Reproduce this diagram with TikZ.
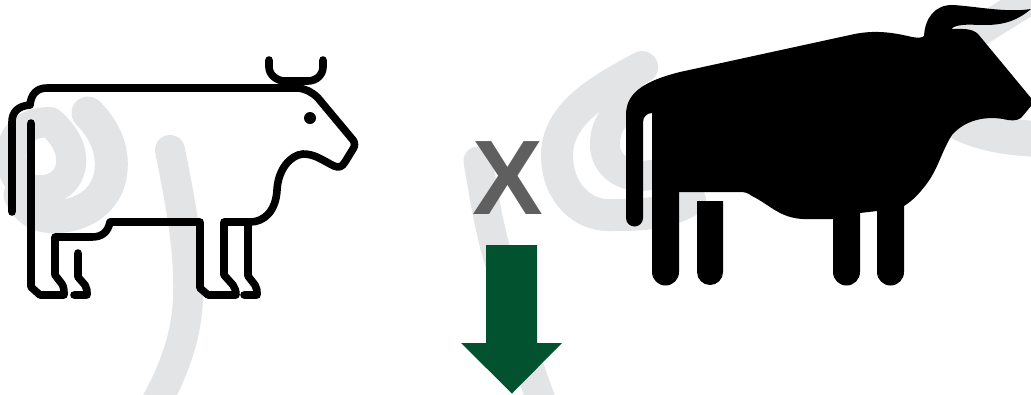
\documentclass[tikz,border=0pt]{standalone}
\usepackage{fontspec}
\setmainfont{Liberation Sans}
\definecolor{wm}{HTML}{E2E4E6}
\definecolor{xgray}{HTML}{5F5F5F}
\definecolor{arrowgreen}{HTML}{03522F}
\tikzset{
  wmark/.style={draw=wm,line width=30pt,line cap=round,line join=round},
  cowline/.style={draw=black,line width=7.6pt,line cap=round,line join=round},
  bullshape/.style={fill=black,draw=none}
}
\begin{document}
\begin{tikzpicture}[x=1pt,y=-1pt]
\useasboundingbox (0,0) rectangle (1031,394);
\fill[white] (0,0) rectangle (1031,394);
\begin{scope}
\clip (0,0) rectangle (1031,394);
% watermark left
\draw[wmark] (170,150) .. controls (180,200) and (190,250) .. (188,300) .. controls (186,340) and (172,375) .. (152,410);
\draw[wmark,line width=33pt] (88,113) .. controls (105,130) and (113,150) .. (111,170) .. controls (108,205) and (75,220) .. (45,216) .. controls (35,214) and (26,208) .. (20,195);
\draw[wmark] (50,122) .. controls (65,135) and (73,150) .. (71,165) .. controls (68,185) and (50,192) .. (35,190) .. controls (15,187) and (10,165) .. (12,150) .. controls (14,132) and (30,122) .. (50,122);
% watermark centre
\draw[wmark,line width=29pt] (478,161) .. controls (484,195) and (488,225) .. (500,265) .. controls (512,310) and (525,360) .. (545,410);
% watermark right
\draw[wmark,line width=32pt] (642,67) .. controls (610,85) and (557,110) .. (557,155) .. controls (557,195) and (585,215) .. (607,215) .. controls (640,215) and (665,215) .. (690,200);
\draw[wmark] (640,100) .. controls (615,110) and (605,125) .. (605,145) .. controls (605,165) and (625,180) .. (650,175);
\draw[wmark,line width=36pt] (930,100) .. controls (955,125) and (985,137) .. (1040,139);
\draw[wmark] (1045,-10) -- (965,40);
\end{scope}
% cow
\draw[cowline] (12,212) -- (12,122) .. controls (12,112) and (18,106) .. (30,105) .. controls (31,94) and (37,88) .. (47,88) -- (298,88) .. controls (306,89) and (312,92) .. (318,98) -- (353,140) .. controls (355,143) and (355,146) .. (353,149) -- (345,162) .. controls (342,167) and (339,168) .. (334,166) .. controls (322,160) and (315,154) .. (303,154) .. controls (290,155) and (278,170) .. (277,190) .. controls (276,210) and (265,222) .. (250,222) -- (224,222) -- (224,275) -- (233,285) .. controls (235,288) and (236,291) .. (236,295) -- (208,295) -- (200,288) -- (200,222) -- (110,222) .. controls (108,232) and (102,237) .. (92,237) -- (55,237) -- (55,275) -- (62,284) .. controls (64,287) and (64,291) .. (64,295) -- (40,295) -- (31,287) -- (31,123);
\draw[cowline] (78,253) -- (78,277) -- (85,285) .. controls (87,288) and (87,291) .. (87,295) -- (74,295);
\draw[cowline] (248,222) -- (248,276) -- (255,285) .. controls (257,288) and (257,291) .. (257,295) -- (244,295);
\draw[cowline] (269,60) -- (269,67) .. controls (269,75) and (277,81) .. (285,81) -- (308,81) .. controls (316,81) and (323,75) .. (323,67) -- (323,60);
\fill[black] (310,118) circle (6);
% bull
\path[bullshape] (626,218) -- (626,115) .. controls (626,95) and (640,82) .. (680,72) -- (850,35) .. controls (875,29) and (895,33) .. (912,37) .. controls (918,38) and (922,38) .. (924,36) .. controls (925,18) and (935,5) .. (952,5) .. controls (975,6) and (1005,13) .. (1031,9) .. controls (1018,20) and (1005,25) .. (985,25) .. controls (972,25) and (958,23) .. (951,29) .. controls (962,29) and (972,28) .. (978,34) -- (1031,98) -- (1031,106) -- (1021,118) .. controls (1017,121) and (1010,121) .. (1003,119) .. controls (985,116) and (965,120) .. (952,135) .. controls (942,150) and (938,170) .. (925,186) .. controls (918,195) and (912,201) .. (904,206) -- (904,272) arc[start angle=0,end angle=180,radius=13.5] -- (877,211) -- (860,213) -- (860,272) arc[start angle=0,end angle=180,radius=13.5] -- (833,219) -- (803,219) .. controls (780,218) and (770,205) .. (752,196) .. controls (748,193) and (745,192) .. (740,192) -- (679,192) -- (679,272) arc[start angle=0,end angle=180,radius=13.5] -- (652,113) .. controls (647,113) and (643,117) .. (643,122) -- (643,218) arc[start angle=0,end angle=180,radius=8.5] -- cycle;
\path[bullshape] (697,201) -- (723,201) -- (723,272) arc[start angle=0,end angle=180,radius=13] -- cycle;
% X and arrow
\node[text=xgray,font=\fontsize{106}{106}\selectfont\bfseries,inner sep=0pt] (cross) at (508,178) {X};
\fill[arrowgreen] (486,245) -- (537,245) -- (537,343) -- (562,343) -- (512,393.5) -- (461,343) -- (486,343) -- cycle;
\end{tikzpicture}
\end{document}
